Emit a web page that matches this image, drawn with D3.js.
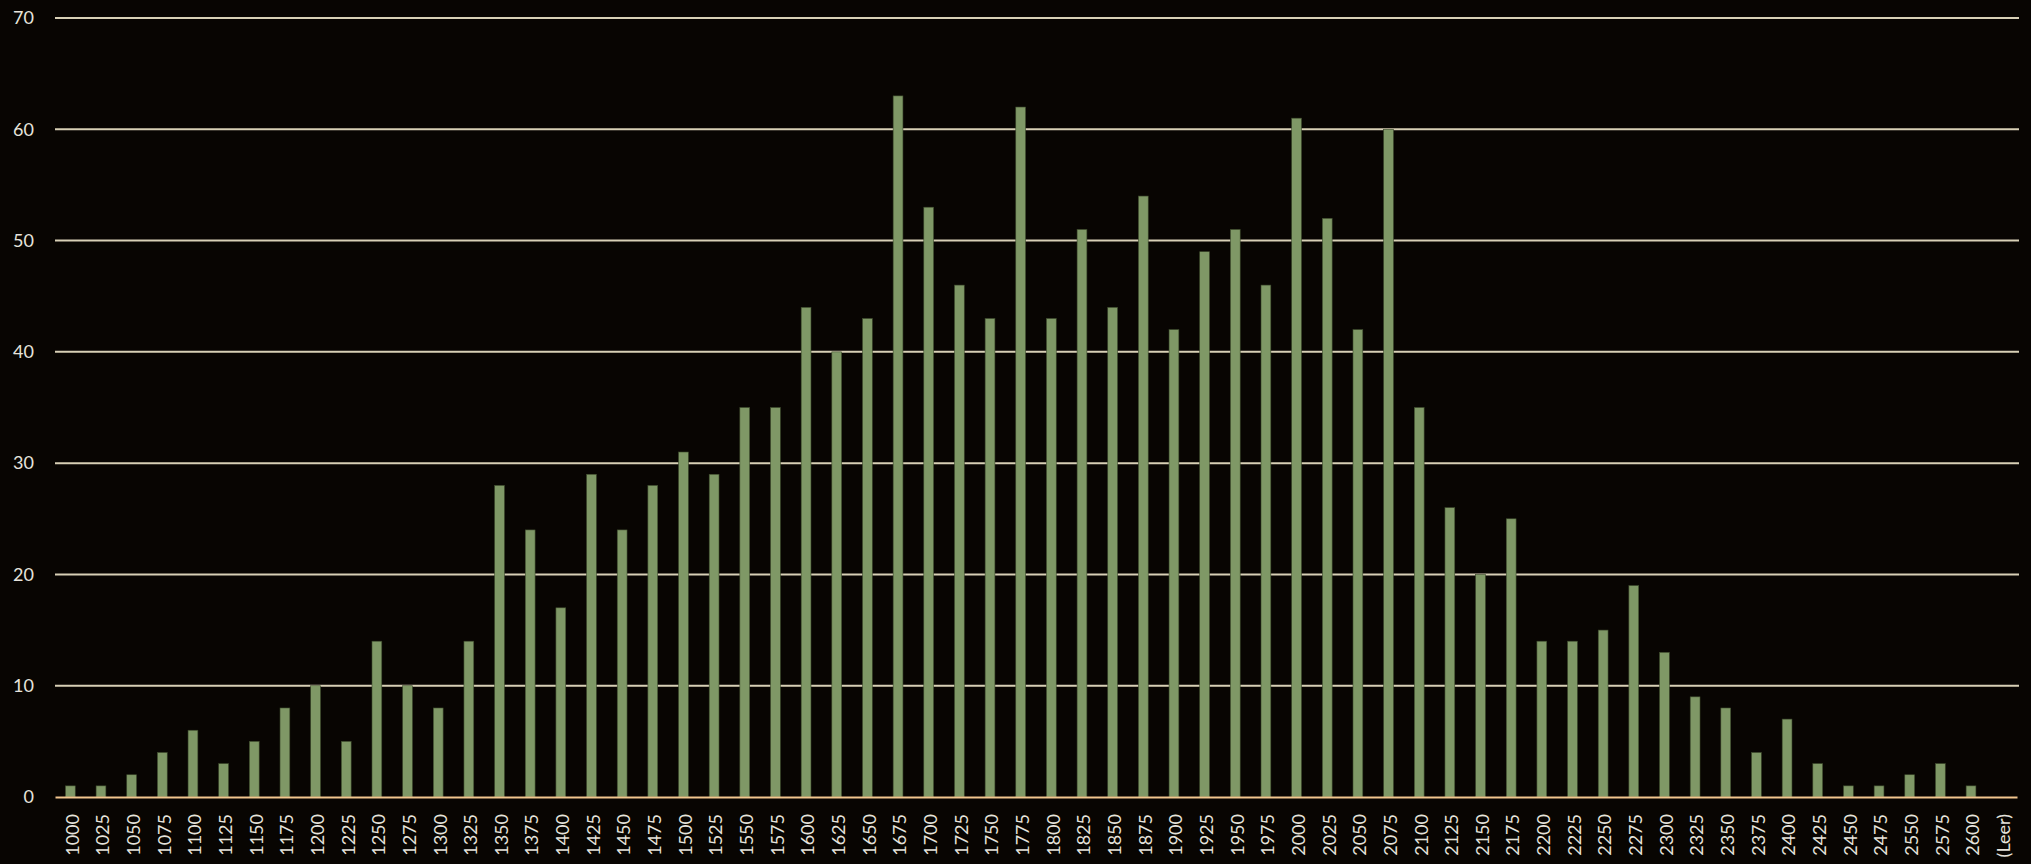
<!DOCTYPE html>
<html>
<head>
<meta charset="utf-8">
<script src="https://cdn.jsdelivr.net/npm/d3@7"></script>
<style>
  html, body { margin: 0; padding: 0; background: #080502; }
  .chart text { font-family: Lato, "Open Sans", sans-serif; fill: #e6e3dc; }
</style>
</head>
<body>
<div class="chart"></div>
<script>
const categories = ['1000','1025','1050','1075','1100','1125','1150','1175','1200','1225',
  '1250','1275','1300','1325','1350','1375','1400','1425','1450','1475',
  '1500','1525','1550','1575','1600','1625','1650','1675','1700','1725',
  '1750','1775','1800','1825','1850','1875','1900','1925','1950','1975',
  '2000','2025','2050','2075','2100','2125','2150','2175','2200','2225',
  '2250','2275','2300','2325','2350','2375','2400','2425','2450','2475',
  '2550','2575','2600','(Leer)'];
const counts = [1,1,2,4,6,3,5,8,10,5,
  14,10,8,14,28,24,17,29,24,28,
  31,29,35,35,44,40,43,63,53,46,
  43,62,43,51,44,54,42,49,51,46,
  61,52,42,60,35,26,20,25,14,14,
  15,19,13,9,8,4,7,3,1,1,
  2,3,1,0];
const yTicks = [0,10,20,30,40,50,60,70];

const totalW = 2031, totalH = 864;
const margin = ({top: 18, right: 14, bottom: 67, left: 55});
const width = totalW - margin.left - margin.right;
const height = totalH - margin.top - margin.bottom;

const svg = d3.select('.chart').append('svg')
    .attr('width', totalW)
    .attr('height', totalH)
  .append('g')
    .attr('transform', `translate(${margin.left},${margin.top})`);

const xScale = d3.scaleBand()
    .domain(categories)
    .range([0, width])
    .paddingInner(0.68)
    .paddingOuter(0.34);

const yScale = d3.scaleLinear()
    .domain([0, 70])
    .range([height, 0]);

// gridlines
svg.append('g')
  .selectAll('line')
  .data(yTicks.filter(t => t > 0))
  .enter()
  .append('line')
    .attr('x1', 0)
    .attr('x2', width + 2)
    .attr('y1', d => yScale(d))
    .attr('y2', d => yScale(d))
    .attr('stroke', '#d8d0b6')
    .attr('stroke-width', 2);

// bars
svg.selectAll('.bar')
  .data(categories)
  .enter()
  .append('rect')
    .attr('class', 'bar')
    .attr('x', d => xScale(d))
    .attr('y', (d, i) => yScale(counts[i]))
    .attr('width', xScale.bandwidth())
    .attr('height', (d, i) => height - yScale(counts[i]))
    .attr('fill', '#7f9866')
    .attr('stroke', '#3d4a2c')
    .attr('stroke-width', 0.6);

// y axis
const yAxis = d3.axisLeft(yScale).tickValues(yTicks).tickSize(0).tickPadding(21);
svg.append('g')
    .attr('class', 'axis y-axis')
    .call(yAxis)
    .call(g => g.select('.domain').remove())
    .selectAll('text')
    .attr('font-size', 18);

// x axis
const xAxis = d3.axisBottom(xScale).tickSize(0).tickPadding(0);
const gx = svg.append('g')
    .attr('class', 'axis x-axis')
    .attr('transform', `translate(0, ${height})`)
    .call(xAxis);
gx.select('.domain')
    .attr('stroke', '#f2c68e')
    .attr('stroke-width', 2);
gx.selectAll('text')
    .attr('font-size', 18)
    .attr('transform', 'rotate(-90)')
    .attr('text-anchor', 'end')
    .attr('dy', '0.35em')
    .attr('x', -17)
    .attr('y', 2);
</script>
</body>
</html>
